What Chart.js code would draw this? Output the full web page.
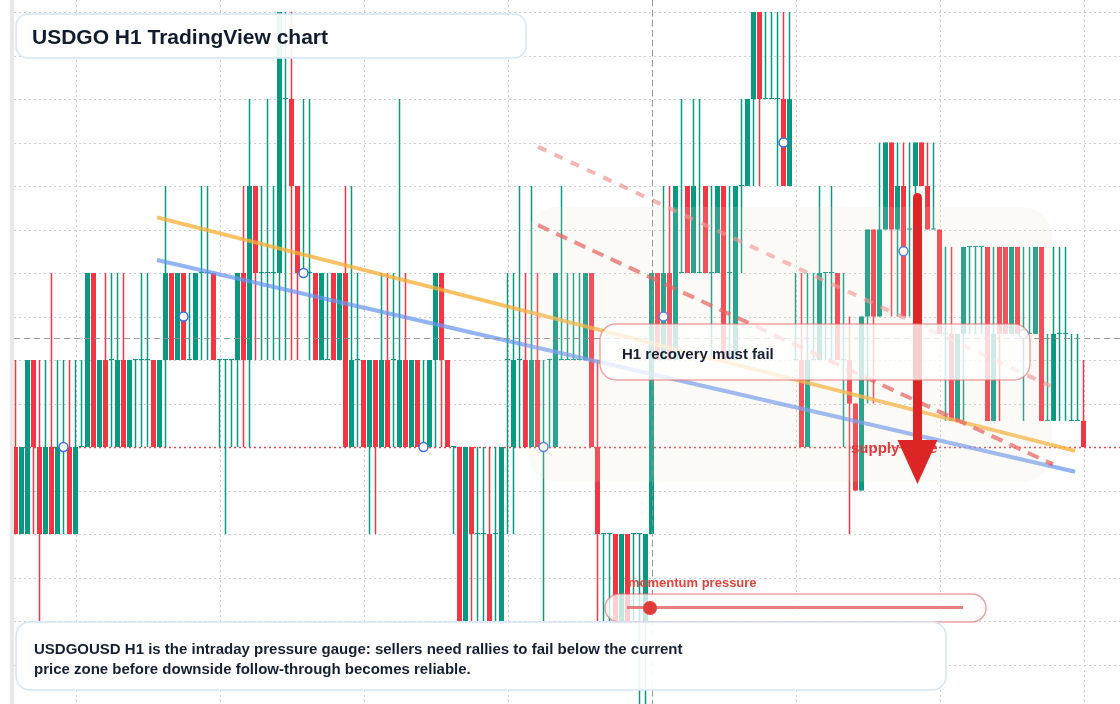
<!DOCTYPE html>
<html>
<head>
<meta charset="utf-8">
<script src="https://cdn.jsdelivr.net/npm/chart.js@4.4.1/dist/chart.umd.min.js"></script>
<style>
  html, body { margin: 0; padding: 0; background: #fff; }
  #wrap { width: 1120px; height: 704px; }
</style>
</head>
<body>
<div id="wrap"><canvas id="chart" width="1120" height="704"></canvas></div>
<script>
// --- USDGO H1 candles, oldest first (one entry per hourly bar) ---
const opens = [
  0.9998,0.9996,0.9996,1.0000,0.9998,0.9996,0.9998,0.9996,0.9998,0.9998,
  0.9996,0.9998,0.9998,1.0002,0.9998,1.0000,1.0000,0.9998,1.0000,0.9998,
  1.0000,1.0000,1.0000,1.0000,0.9998,1.0000,1.0002,1.0000,1.0002,1.0000,
  1.0000,1.0002,1.0002,1.0002,1.0000,1.0000,1.0000,1.0000,1.0002,1.0000,
  1.0004,1.0002,1.0002,1.0002,1.0002,1.0006,1.0006,1.0004,1.0002,1.0002,
  1.0002,1.0000,1.0000,1.0002,1.0000,1.0002,0.9998,1.0000,1.0000,0.9998,
  1.0000,0.9998,1.0000,1.0000,0.9998,1.0000,0.9998,1.0000,0.9998,0.9998,
  1.0000,1.0002,1.0000,0.9998,0.9998,0.9994,0.9998,0.9996,0.9996,0.9996,
  0.9996,0.9994,1.0000,0.9998,1.0000,1.0000,0.9998,1.0000,0.9998,1.0000,
  0.9998,1.0000,1.0000,1.0000,1.0000,1.0000,1.0002,0.9998,0.9996,0.9996,
  0.9996,0.9994,0.9996,0.9996,0.9996,0.9994,0.9996,1.0002,1.0000,1.0002,
  1.0000,1.0002,1.0004,1.0002,1.0002,1.0004,1.0002,1.0002,1.0004,1.0002,
  1.0000,1.0004,1.0004,1.0006,1.0008,1.0006,1.0006,1.0006,1.0006,1.0004,
  1.0000,1.0000,0.9998,1.0000,1.0000,1.0002,1.0002,1.0002,1.0000,1.0000,
  0.9999,0.9997,1.0001,1.0003,1.0001,1.0003,1.0005,1.0003,1.0004,1.0003,
  1.0004,1.0005,1.0004,1.0003,1.0003,1.00006,1.00006,0.99986,1.00006,1.00026,
  1.00026,1.00026,1.00026,0.99986,1.00026,1.00026,1.00006,1.00026,1.00006,1.00006,
  1.00006,1.00026,0.99986,0.99986,1.00006,1.00006,0.99986,0.99986,0.99986
];
const highs = [
  1.0000,0.9998,1.0000,1.0000,1.0000,1.0000,1.0002,1.0000,1.0000,1.0000,
  1.0000,1.0000,1.0002,1.0002,1.0000,1.0002,1.0002,1.0002,1.0002,1.0000,
  1.0000,1.0002,1.0002,1.0000,1.0000,1.0004,1.0002,1.0002,1.0002,1.0002,
  1.0002,1.0004,1.0004,1.0002,1.0000,1.0000,1.0000,1.0002,1.0004,1.0006,
  1.0004,1.0004,1.0006,1.0004,1.0008,1.0008,1.0008,1.0004,1.0006,1.0006,
  1.0002,1.0002,1.0002,1.0002,1.0002,1.0004,1.0004,1.0002,1.0000,1.0000,
  1.0000,1.0002,1.0002,1.0002,1.0006,1.0002,1.0000,1.0000,1.0000,1.0000,
  1.0002,1.0002,1.0000,0.9998,0.9998,0.9998,0.9998,0.9998,0.9998,0.9998,
  0.9998,0.9998,1.0002,1.0002,1.0004,1.0002,1.0004,1.0002,1.0000,1.0000,
  1.0002,1.0004,1.0002,1.0002,1.0002,1.0002,1.0002,1.0000,0.9996,0.9996,
  0.9996,0.9996,0.9996,0.9996,0.9996,0.9996,1.0002,1.0002,1.0004,1.0004,
  1.0004,1.0006,1.0004,1.0006,1.0006,1.0004,1.0004,1.0004,1.0004,1.0004,
  1.0004,1.0006,1.0006,1.0008,1.0008,1.0008,1.0008,1.0008,1.0008,1.0008,
  1.0002,1.0002,1.0002,1.0002,1.0004,1.0002,1.0004,1.0002,1.0002,1.0001,
  0.9999,1.0001,1.0003,1.0003,1.0005,1.0005,1.0005,1.0005,1.0005,1.0005,
  1.0005,1.0005,1.0005,1.0005,1.0003,1.00026,1.00026,1.00006,1.00026,1.00026,
  1.00026,1.00026,1.00026,1.00026,1.00026,1.00026,1.00026,1.00026,1.00026,1.00026,
  1.00026,1.00026,1.00006,1.00026,1.00026,1.00026,1.00006,1.00006,1.0000
];
const lows = [
  0.9996,0.9996,0.9996,0.9996,0.9994,0.9996,0.9996,0.9996,0.9996,0.9996,
  0.9996,0.9998,0.9998,0.9998,0.9998,0.9998,0.9998,0.9998,0.9998,0.9998,
  0.9998,0.9998,0.9998,0.9998,0.9998,0.9998,1.0000,1.0000,1.0000,1.0000,
  1.0000,1.0000,1.0000,1.0000,0.9998,0.9996,0.9998,0.9998,0.9998,0.9998,
  1.0000,1.0000,1.0000,1.0000,1.0000,1.0000,1.0000,1.0000,1.0002,1.0000,
  1.0000,1.0000,1.0000,1.0000,1.0000,0.9998,0.9998,0.9998,0.9998,0.9996,
  0.9996,0.9998,0.9998,0.9998,0.9998,0.9998,0.9998,0.9998,0.9998,0.9998,
  0.9998,0.9998,0.9998,0.9996,0.9994,0.9994,0.9994,0.9994,0.9994,0.9994,
  0.9994,0.9994,0.9996,0.9996,0.9998,0.9998,0.9998,0.9998,0.9994,0.9998,
  0.9998,1.0000,1.0000,1.0000,1.0000,1.0000,0.9998,0.9994,0.9994,0.9994,
  0.9994,0.9994,0.9994,0.9994,0.99916,0.99916,0.9996,1.0000,1.0000,1.0000,
  1.0000,1.0002,1.0002,1.0002,1.0002,1.0002,1.0000,1.0002,1.0000,1.0000,
  1.0000,1.0002,1.0004,1.0004,1.0004,1.0006,1.0006,1.0004,1.0004,1.0004,
  1.0000,0.9998,0.9998,1.0000,1.0000,1.0000,1.0000,1.0000,0.9998,0.9996,
  0.9997,0.9997,0.9999,0.9999,1.0001,1.0003,1.0001,1.0001,1.0001,1.0001,
  1.0003,1.0004,1.0003,1.0003,1.00006,0.99986,0.99986,0.99986,0.99986,1.00006,
  1.00006,1.00006,0.99986,0.99986,0.99986,1.00006,1.00006,1.00006,0.99986,1.00006,
  1.00006,0.99986,0.99986,0.99986,0.99986,0.99986,0.99986,0.99986,0.9998
];
const closes = [
  0.9996,0.9998,1.0000,0.9998,0.9996,0.9998,0.9996,0.9998,0.9998,0.9996,
  0.9998,0.9998,1.0002,0.9998,1.0000,0.9998,1.0000,1.0000,0.9998,1.0000,
  1.0000,1.0000,1.0000,0.9998,1.0000,1.0002,1.0000,1.0002,1.0000,1.0000,
  1.0002,1.0002,1.0002,1.0000,1.0000,1.0000,1.0000,1.0002,1.0000,1.0004,
  1.0002,1.0002,1.0002,1.0002,1.0008,1.0006,1.0004,1.0002,1.0002,1.0002,
  1.0000,1.0002,1.0000,1.0000,1.0002,0.9998,1.0000,1.0000,0.9998,1.0000,
  0.9998,1.0000,0.9998,1.0000,1.0000,0.9998,1.0000,0.9998,0.9998,1.0000,
  1.0002,1.0000,0.9998,0.9998,0.9994,0.9998,0.9996,0.9996,0.9996,0.9994,
  0.9996,0.9998,1.0000,1.0000,1.0000,0.9998,1.0000,0.9998,0.9998,1.0000,
  1.0002,1.0000,1.0000,1.0000,1.0000,1.0002,0.9998,0.9996,0.9996,0.9996,
  0.9994,0.9996,0.9994,0.9996,0.9996,0.9996,1.0002,1.0000,1.0002,1.0000,
  1.0004,1.0002,1.0002,1.0004,1.0002,1.0002,1.0002,1.0004,1.0000,1.0002,
  1.0004,1.0004,1.0006,1.0008,1.0006,1.0006,1.0006,1.0006,1.0004,1.0006,
  1.0000,0.9998,1.0000,1.0000,1.0002,1.0002,1.0002,1.0000,1.0000,0.9999,
  0.9997,1.0001,1.0003,1.0001,1.0003,1.0005,1.0003,1.0004,1.0001,1.0003,
  1.0005,1.0004,1.0003,1.0003,1.00006,1.00006,0.99986,1.00006,1.00026,1.00026,
  1.00026,1.00026,0.99986,1.00006,1.00006,1.00006,1.00026,1.00006,1.00006,1.00006,
  1.00026,0.99986,0.99986,1.00006,1.00006,1.00006,0.99986,0.99986,0.9998
];

// grid positions (bar index / price)
const gridBars = [10, 34, 58, 82, 106, 130, 154, 178];
const gridPrices = [0.9993, 0.9994, 0.9995, 0.9996, 0.9997, 0.9998, 0.9999, 1.0000,
                    1.0001, 1.0002, 1.0003, 1.0004, 1.0005, 1.0006, 1.0007, 1.0008];

// pivot markers sit at the body middle of these bars
const markerBars = [8, 28, 48, 68, 88, 108, 128, 148, 168];

// drawn trend lines: [bar, price] end points
const trendOrange = [[23.6, 1.000328], [176.6, 0.999791]];
const trendBlue = [[23.6, 1.000230], [176.6, 0.999743]];
const resistInner = [[87.1, 1.000310], [172.9, 0.999760]];
const resistOuter = [[87.1, 1.000490], [172.5, 0.999940]];

const supplyPrice = 0.9998;
const zoneBars = [85.25, 172.75];
const zonePrices = [0.99972, 1.000352];
const crossBar = 106;
const crossPrice = 1.00005;
const arrowBar = 150.33;
const arrowPrices = [1.000384, 0.999715];

const UP = '#089981', DOWN = '#f23645';
const FONT = '"Liberation Sans", Arial, sans-serif';

const colors = opens.map((o, i) => closes[i] >= o ? UP : DOWN);
const wickData = opens.map((o, i) => ({ x: i, y: [lows[i], highs[i]] }));
const bodyData = opens.map((o, i) => ({ x: i, y: [o, closes[i]] }));
const markerData = markerBars.map(i => ({ x: i, y: (opens[i] + closes[i]) / 2 }));
const toPts = arr => arr.map(p => ({ x: p[0], y: p[1] }));

function box(ctx, x, y, w, h, r, fill, stroke, lw) {
    ctx.beginPath();
    ctx.roundRect(x, y, w, h, r);
    ctx.fillStyle = fill;
    ctx.fill();
    if (stroke) {
        ctx.lineWidth = lw;
        ctx.strokeStyle = stroke;
        ctx.stroke();
    }
}

const overlays = {
    id: 'overlays',
    beforeDatasetsDraw(chart) {
        const { ctx, chartArea, scales: { x, y } } = chart;
        ctx.save();
        // dotted grid
        ctx.strokeStyle = '#cfcfcf';
        ctx.lineWidth = 1;
        ctx.setLineDash([2, 3]);
        ctx.beginPath();
        gridBars.forEach(v => {
            const px = Math.round(x.getPixelForValue(v)) + 0.5;
            ctx.moveTo(px, chartArea.top); ctx.lineTo(px, chartArea.bottom);
        });
        gridPrices.forEach(v => {
            const py = Math.round(y.getPixelForValue(v)) + 0.5;
            ctx.moveTo(chartArea.left, py); ctx.lineTo(chartArea.right, py);
        });
        ctx.stroke();

        ctx.setLineDash([]);
        ctx.fillStyle = '#e8e8e8';
        ctx.fillRect(10, 0, 4, chart.height);
        // supply level
        const sy = Math.round(y.getPixelForValue(supplyPrice)) + 0.5;
        ctx.strokeStyle = '#e5484d';
        ctx.lineWidth = 1.5;
        ctx.setLineDash([2, 3]);
        ctx.beginPath();
        ctx.moveTo(chartArea.left, sy);
        ctx.lineTo(chartArea.right, sy);
        ctx.stroke();
        ctx.restore();
    },
    afterDatasetsDraw(chart) {
        const { ctx, chartArea, scales: { x, y } } = chart;
        ctx.save();

        // supply zone tint
        const zx0 = x.getPixelForValue(zoneBars[0]), zx1 = x.getPixelForValue(zoneBars[1]);
        const zy0 = y.getPixelForValue(zonePrices[1]), zy1 = y.getPixelForValue(zonePrices[0]);
        box(ctx, zx0, zy0, zx1 - zx0, zy1 - zy0, 30, 'rgba(238,222,206,0.16)');

        // crosshair
        const cx = Math.round(x.getPixelForValue(crossBar)) + 0.5;
        const cy = Math.round(y.getPixelForValue(crossPrice)) + 0.5;
        ctx.strokeStyle = 'rgba(140,140,140,0.85)';
        ctx.lineWidth = 1;
        ctx.setLineDash([6, 4]);
        ctx.beginPath();
        ctx.moveTo(cx, chartArea.top); ctx.lineTo(cx, chartArea.bottom);
        ctx.moveTo(chartArea.left, cy); ctx.lineTo(chartArea.right, cy);
        ctx.stroke();
        ctx.setLineDash([]);

        // supply label
        ctx.fillStyle = '#e0393e';
        ctx.font = 'bold 15px ' + FONT;
        ctx.textBaseline = 'alphabetic';
        ctx.fillText('supply zone', 851, 453);

        // big arrow
        const ax = x.getPixelForValue(arrowBar);
        const aTop = y.getPixelForValue(arrowPrices[0]);
        const aTip = y.getPixelForValue(arrowPrices[1]);
        const headH = 44, headW = 20;
        ctx.strokeStyle = '#dc2626';
        ctx.fillStyle = '#dc2626';
        ctx.lineWidth = 9;
        ctx.lineCap = 'round';
        ctx.beginPath();
        ctx.moveTo(ax, aTop + 4.5);
        ctx.lineTo(ax, aTip - headH + 2);
        ctx.stroke();
        ctx.lineCap = 'butt';
        ctx.beginPath();
        ctx.moveTo(ax - headW, aTip - headH);
        ctx.lineTo(ax + headW, aTip - headH);
        ctx.lineTo(ax, aTip);
        ctx.closePath();
        ctx.fill();

        // H1 recovery callout
        box(ctx, 600, 324, 430, 56, 16, 'rgba(255,255,255,0.78)', 'rgba(232,108,108,0.6)', 1.5);
        ctx.fillStyle = '#172033';
        ctx.font = 'bold 15px ' + FONT;
        ctx.fillText('H1 recovery must fail', 622, 359);

        // momentum gauge
        box(ctx, 605, 594, 381, 28, 14, 'rgba(255,255,255,0.76)', 'rgba(232,100,100,0.6)', 1.5);
        ctx.strokeStyle = 'rgba(226,92,92,0.78)';
        ctx.lineWidth = 3;
        ctx.beginPath();
        ctx.moveTo(627, 607.5); ctx.lineTo(963, 607.5);
        ctx.stroke();
        ctx.fillStyle = '#e23b3b';
        ctx.beginPath();
        ctx.arc(650, 608, 7, 0, Math.PI * 2);
        ctx.fill();
        ctx.fillStyle = '#e0443e';
        ctx.font = 'bold 13px ' + FONT;
        ctx.fillText('momentum pressure', 628, 587);

        // title
        box(ctx, 16, 14, 510, 44, 12, 'rgba(255,255,255,0.92)', '#d8e4f8', 1.5);
        ctx.fillStyle = '#131c2e';
        ctx.font = 'bold 21px ' + FONT;
        ctx.fillText('USDGO H1 TradingView chart', 32, 43.5);

        // caption
        box(ctx, 16, 622, 930, 68, 14, 'rgba(255,255,255,0.92)', '#d8e4f8', 1.5);
        ctx.fillStyle = '#172033';
        ctx.font = 'bold 15px ' + FONT;
        ctx.fillText('USDGOUSD H1 is the intraday pressure gauge: sellers need rallies to fail below the current', 34, 654);
        ctx.fillText('price zone before downside follow-through becomes reliable.', 34, 673.5);

        ctx.restore();
    }
};

const lineStyle = (data, color, dash, order) => ({
    type: 'line',
    data: toPts(data),
    borderColor: color,
    borderWidth: 4,
    borderDash: dash,
    pointRadius: 0,
    fill: false,
    tension: 0,
    order: order
});

new Chart(document.getElementById('chart'), {
    type: 'bar',
    data: {
        datasets: [
            {
                data: wickData,
                backgroundColor: colors,
                barThickness: 1.5,
                borderWidth: 0,
                inflateAmount: 0,
                grouped: false,
                order: 20
            },
            {
                data: bodyData,
                backgroundColor: colors,
                barThickness: 5,
                minBarLength: 1,
                borderWidth: 0,
                inflateAmount: 0,
                grouped: false,
                order: 19
            },
            lineStyle(trendOrange, 'rgba(249,176,58,0.78)', [], 8),
            lineStyle(trendBlue, 'rgba(104,150,240,0.72)', [], 7),
            lineStyle(resistOuter, 'rgba(240,140,140,0.65)', [9, 9], 6),
            lineStyle(resistInner, 'rgba(228,78,78,0.72)', [12, 8], 5),
            {
                type: 'line',
                data: markerData,
                showLine: false,
                pointRadius: 4.5,
                pointHoverRadius: 4.5,
                pointBorderWidth: 1.5,
                pointBackgroundColor: '#ffffff',
                pointBorderColor: '#3d6ee8',
                order: 1
            }
        ]
    },
    options: {
        responsive: false,
        animation: false,
        events: [],
        layout: { autoPadding: false, padding: { left: 14, right: 0, top: 0, bottom: 0 } },
        plugins: { legend: { display: false }, tooltip: { enabled: false } },
        scales: {
            x: { type: 'linear', display: false, min: -0.25, max: 184.0833, offset: false },
            y: { display: false, min: 0.9992092, max: 1.0008276 }
        }
    },
    plugins: [overlays]
});
</script>
</body>
</html>
